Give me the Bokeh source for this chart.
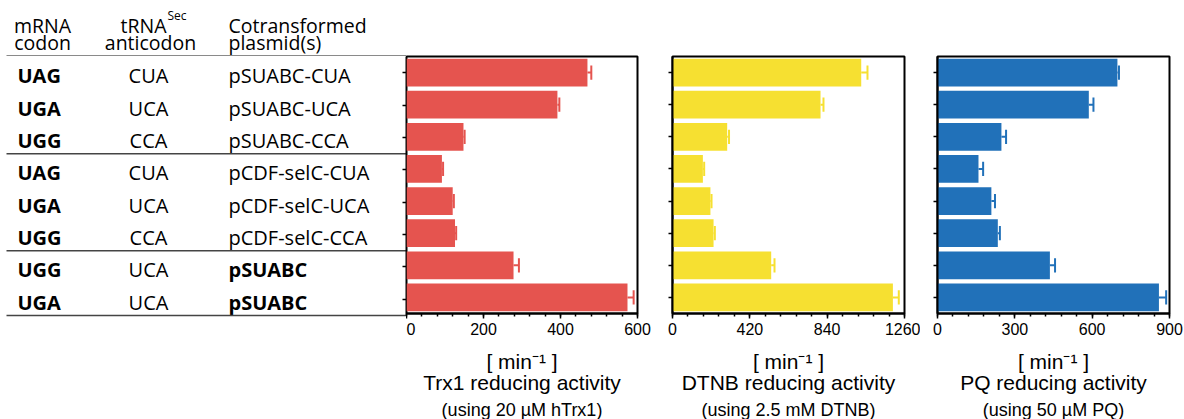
from bokeh.plotting import figure
from bokeh.models import Range1d, FixedTicker, SingleIntervalTicker, LinearAxis, Title
from bokeh.layouts import row, column
from bokeh.embed import file_html
from bokeh.resources import INLINE
from bokeh.core.properties import value

# ---------------- data ----------------
codons = ["UAG", "UGA", "UGG", "UAG", "UGA", "UGG", "UGG", "UGA"]
anticodons = ["CUA", "UCA", "CCA", "CUA", "UCA", "CCA", "UCA", "UCA"]
plasmids = ["pSUABC-CUA", "pSUABC-UCA", "pSUABC-CCA",
            "pCDF-selC-CUA", "pCDF-selC-UCA", "pCDF-selC-CCA",
            "pSUABC", "pSUABC"]
group_sizes = [3, 3, 2]

trx1 = [470, 392, 148, 92, 120, 126, 278, 574]
trx1_err = [10, 5, 3, 3, 3, 3, 14, 16]
dtnb = [1025, 804, 297, 165, 206, 223, 536, 1197]
dtnb_err = [34, 16, 10, 7, 6, 7, 18, 32]
pq = [698, 587, 248, 159, 209, 234, 436, 859]
pq_err = [6, 18, 18, 18, 14, 8, 20, 28]

header_codon = ["mRNA", "codon"]
header_anti = ["tRNA", "Sec", "anticodon"]
header_plasmid = ["Cotransformed", "plasmid(s)"]
unit_label = "[ min\u207b\u00b9 ]"

# ---------------- layout constants ----------------
n = len(codons)
rows = [i + 0.5 for i in range(n)]
H = 419
TOP = 56
FRAME_H = 259
BOTTOM = H - TOP - FRAME_H
U = FRAME_H / n
AX_FONT = "Liberation Sans"
TB_FONT = "Open Sans"
TW = 406
HDR_H = TOP
BL = -8  # baseline correction measured on the rendered output

# ---------------- header figure ----------------
hd = figure(width=TW, height=HDR_H, x_range=Range1d(0, TW), y_range=Range1d(HDR_H, 0),
            output_backend="svg", toolbar_location=None,
            x_axis_location=None, y_axis_location=None,
            min_border=0, outline_line_color=None)
hd.grid.visible = False


def hdr(xs, ys, txts, align, size="19.5px"):
    hd.text(x=xs, y=[y + BL for y in ys], text=txts, text_align=align,
            text_baseline="alphabetic", text_font=value(TB_FONT),
            text_font_size=value(size), text_color="black")


hdr([42, 42], [33, 49.5], header_codon, "center")
hdr([166], [33], [header_anti[0]], "right")
hdr([167], [23], [header_anti[1]], "left", "12px")
hdr([150], [49.5], [header_anti[2]], "center")
hdr([228, 228], [33, 49.5], header_plasmid, "left")
# top rule of the table (sits on the header's lower edge)
hd.segment(x0=[6], x1=[TW], y0=[HDR_H - 0.7], y1=[HDR_H - 0.7],
           line_color="#8a8a8a", line_width=1.4)

# ---------------- table figure ----------------
PAD = 2
t = figure(width=TW, height=H - HDR_H, x_range=Range1d(0, TW),
           y_range=Range1d(n + PAD / U, 0),
           output_backend="svg", toolbar_location=None,
           x_axis_location=None, y_axis_location=None,
           min_border_left=0, min_border_right=0,
           min_border_top=0, min_border_bottom=BOTTOM - PAD,
           outline_line_color=None)
t.grid.visible = False

row_y = [r + (11 + BL) / U for r in rows]
t.text(x=[17] * n, y=row_y, text=codons,
       text_font=value(TB_FONT), text_font_size=value("20px"),
       text_font_style="bold", text_align="left",
       text_baseline="alphabetic", text_color="black")
t.text(x=[148] * n, y=row_y, text=anticodons,
       text_font=value(TB_FONT), text_font_size=value("20px"),
       text_align="center", text_baseline="alphabetic", text_color="black")
plain = [i for i in range(n) if "-" in plasmids[i]]
bold = [i for i in range(n) if "-" not in plasmids[i]]
t.text(x=[228] * len(plain), y=[row_y[i] for i in plain],
       text=[plasmids[i] for i in plain],
       text_font=value(TB_FONT), text_font_size=value("20px"),
       text_align="left", text_baseline="alphabetic", text_color="black")
t.text(x=[228] * len(bold), y=[row_y[i] for i in bold],
       text=[plasmids[i] for i in bold],
       text_font=value(TB_FONT), text_font_size=value("20px"),
       text_font_style="bold", text_align="left",
       text_baseline="alphabetic", text_color="black")

# group rules
bounds = [0]
for g in group_sizes:
    bounds.append(bounds[-1] + g)
t.segment(x0=[6] * (len(bounds) - 1), x1=[TW] * (len(bounds) - 1),
          y0=bounds[1:], y1=bounds[1:], line_color="#444444", line_width=1.5)

no_labels = {r: "" for r in rows}

# y ticks of the first panel, carried on the table's right edge
tax = LinearAxis(ticker=FixedTicker(ticks=rows, minor_ticks=[]), bounds=(0, n),
                 major_tick_in=4, major_tick_out=0, minor_tick_in=0, minor_tick_out=0,
                 major_label_overrides=no_labels, major_label_standoff=0,
                 axis_line_width=2, axis_line_color="black",
                 major_tick_line_width=1.5, major_tick_line_color="black")
t.add_layout(tax, "right")


# ---------------- bar panels ----------------
def panel(vals, errs, color, xmax, interval, ml, fw, mr, title, subtitle, show_y):
    p = figure(width=ml + fw + mr, height=H,
               x_range=Range1d(0, xmax), y_range=Range1d(n, 0),
               output_backend="svg", toolbar_location=None,
               min_border_left=ml, min_border_right=mr,
               min_border_top=TOP, min_border_bottom=BOTTOM,
               y_axis_location="left" if show_y else None,
               outline_line_color="black", outline_line_width=2)
    p.grid.visible = False
    p.hbar(y=rows, left=0, right=vals, height=0.86, fill_color=color, line_color=None)
    hi = [v + e for v, e in zip(vals, errs)]
    p.segment(x0=vals, x1=hi, y0=rows, y1=rows, line_color=color, line_width=2)
    p.segment(x0=hi, x1=hi, y0=[r - 0.22 for r in rows], y1=[r + 0.22 for r in rows],
              line_color=color, line_width=2)

    xa = p.xaxis[0]
    xa.ticker = SingleIntervalTicker(interval=interval, num_minor_ticks=5)
    xa.axis_line_width = 2
    xa.axis_line_color = "black"
    xa.major_tick_out = 5
    xa.major_tick_in = 0
    xa.minor_tick_out = 3
    xa.minor_tick_in = 0
    xa.major_tick_line_width = 1.5
    xa.minor_tick_line_width = 1.5
    xa.major_tick_line_color = "black"
    xa.minor_tick_line_color = "black"
    xa.major_label_text_font = AX_FONT
    xa.major_label_text_font_size = "16px"
    xa.major_label_text_color = "black"
    xa.major_label_standoff = 4
    xa.axis_label = unit_label + "\n" + title
    xa.axis_label_text_font = AX_FONT
    xa.axis_label_text_font_size = "21px"
    xa.axis_label_text_font_style = "normal"
    xa.axis_label_text_color = "black"
    xa.axis_label_text_line_height = 0.95
    xa.axis_label_standoff = 12

    if show_y:
        ya = p.yaxis[0]
        ya.ticker = FixedTicker(ticks=rows, minor_ticks=[])
        ya.major_tick_out = 4
        ya.major_tick_in = 0
        ya.minor_tick_out = 0
        ya.minor_tick_in = 0
        ya.major_label_overrides = no_labels
        ya.major_label_standoff = 0
        ya.axis_line_width = 2
        ya.axis_line_color = "black"
        ya.major_tick_line_width = 1.5
        ya.major_tick_line_color = "black"

    p.add_layout(Title(text=subtitle, align="center", text_font=AX_FONT,
                       text_font_size="18px", text_font_style="normal",
                       text_color="black", standoff=0), "below")
    return p


p1 = panel(trx1, trx1_err, "#E5544F", 600, 200, 0, 231, 15,
           "Trx1 reducing activity", "(using 20 \u00b5M hTrx1)", False)
p2 = panel(dtnb, dtnb_err, "#F6E031", 1260, 420, 20, 232, 16,
           "DTNB reducing activity", "(using 2.5 mM DTNB)", True)
p3 = panel(pq, pq_err, "#2171B9", 900, 300, 17, 232, 14,
           "PQ reducing activity", "(using 50 \u00b5M PQ)", True)

layout = row(column(hd, t), p1, p2, p3)
open("out.html", "w").write(file_html(layout, INLINE))
